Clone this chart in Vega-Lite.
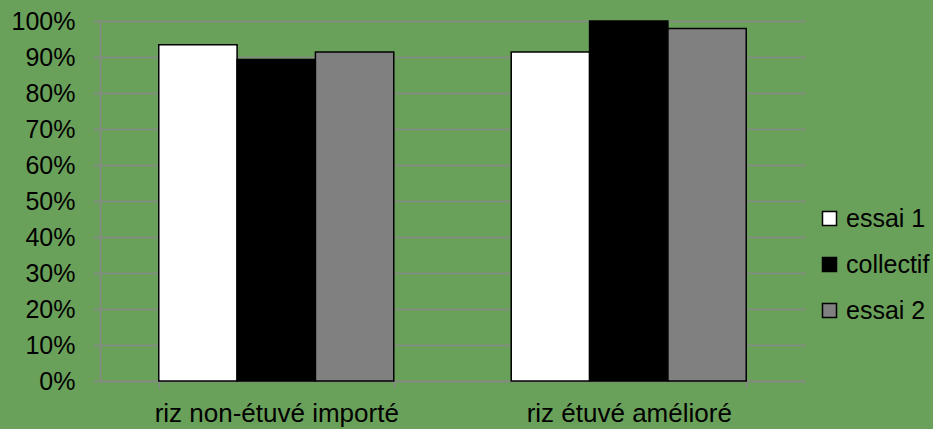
{
  "$schema": "https://vega.github.io/schema/vega-lite/v6.json",
  "width": 705,
  "height": 360,
  "autosize": {"type": "none"},
  "padding": {"left": 100, "top": 21, "right": 128, "bottom": 48},
  "background": "#6aa15a",
  "config": {
    "view": {"stroke": null},
    "font": "Liberation Sans"
  },
  "data": {
    "values": [
      {"produit": "riz non-étuvé importé", "serie": "essai 1", "valeur": 0.934},
      {"produit": "riz non-étuvé importé", "serie": "collectif", "valeur": 0.893},
      {"produit": "riz non-étuvé importé", "serie": "essai 2", "valeur": 0.914},
      {"produit": "riz étuvé amélioré", "serie": "essai 1", "valeur": 0.914},
      {"produit": "riz étuvé amélioré", "serie": "collectif", "valeur": 1.0},
      {"produit": "riz étuvé amélioré", "serie": "essai 2", "valeur": 0.979}
    ]
  },
  "mark": {"type": "bar", "stroke": "black", "strokeWidth": 1.5},
  "encoding": {
    "x": {
      "field": "produit",
      "type": "nominal",
      "sort": ["riz non-étuvé importé", "riz étuvé amélioré"],
      "scale": {"paddingInner": 0.3333, "paddingOuter": 0.1667},
      "axis": {
        "title": null,
        "labelAngle": 0,
        "labelFontSize": 26,
        "labelLimit": 0,
        "labelColor": "black",
        "labelPadding": 12,
        "tickBand": "extent",
        "tickSize": 7,
        "tickColor": "#888888",
        "tickWidth": 1.5,
        "domainColor": "#888888",
        "domainWidth": 1.5,
        "grid": false
      }
    },
    "xOffset": {
      "field": "serie",
      "type": "nominal",
      "sort": ["essai 1", "collectif", "essai 2"],
      "scale": {"paddingInner": 0, "paddingOuter": 0}
    },
    "y": {
      "field": "valeur",
      "type": "quantitative",
      "stack": null,
      "scale": {"domain": [0, 1]},
      "axis": {
        "title": null,
        "format": ".0%",
        "values": [0, 0.1, 0.2, 0.3, 0.4, 0.5, 0.6, 0.7, 0.8, 0.9, 1.0],
        "labelFontSize": 25,
        "labelColor": "black",
        "labelPadding": 18,
        "tickSize": 7,
        "tickColor": "#888888",
        "tickWidth": 1.5,
        "domainColor": "#888888",
        "domainWidth": 1.5,
        "gridColor": "#888888",
        "gridWidth": 1.5
      }
    },
    "color": {
      "field": "serie",
      "type": "nominal",
      "sort": ["essai 1", "collectif", "essai 2"],
      "scale": {"domain": ["essai 1", "collectif", "essai 2"], "range": ["#ffffff", "#000000", "#808080"]},
      "legend": {
        "title": null,
        "orient": "none",
        "legendX": 717,
        "legendY": 185,
        "padding": 0,
        "symbolType": "square",
        "symbolSize": 196,
        "symbolStrokeColor": "black",
        "symbolStrokeWidth": 1.5,
        "symbolOpacity": 1,
        "labelFontSize": 25,
        "labelLimit": 0,
        "labelColor": "black",
        "labelOffset": 4,
        "rowPadding": 20
      }
    }
  }
}
